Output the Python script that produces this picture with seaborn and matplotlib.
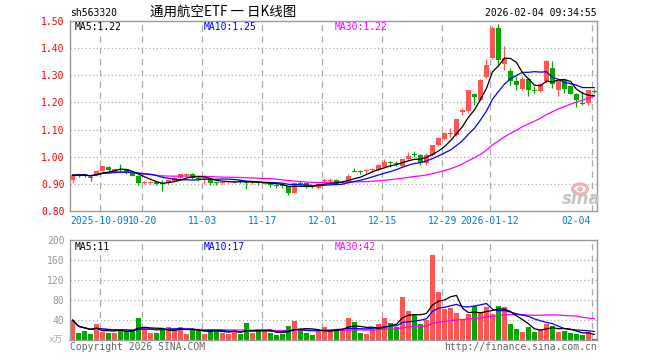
import numpy as np
import pandas as pd
import matplotlib
matplotlib.use("Agg")
import matplotlib.pyplot as plt
from matplotlib.patches import Ellipse
import matplotlib.transforms as mtransforms
import seaborn as sns

# ---------------- data ----------------
opens = [0.916, 0.934, 0.934, 0.925, 0.932, 0.948, 0.963, 0.943, 0.955, 0.953,
         0.945, 0.930, 0.902, 0.903, 0.908, 0.903, 0.903, 0.912, 0.921, 0.933,
         0.938, 0.921, 0.918, 0.915, 0.905, 0.903, 0.906, 0.908, 0.912, 0.910,
         0.903, 0.905, 0.901, 0.902, 0.897, 0.894, 0.891, 0.867, 0.901, 0.904,
         0.891, 0.884, 0.911, 0.912, 0.916, 0.903, 0.907, 0.948, 0.945, 0.948,
         0.952, 0.950, 0.963, 0.978, 0.978, 0.966, 0.990, 1.010, 1.008, 0.976,
         1.006, 1.043, 1.064, 1.083, 1.080, 1.166, 1.170, 1.232, 1.208, 1.294,
         1.365, 1.475, 1.343, 1.315, 1.278, 1.249, 1.286, 1.245, 1.241, 1.278,
         1.327, 1.247, 1.281, 1.259, 1.232, 1.198, 1.197, 1.242]
highs = [0.933, 0.938, 0.938, 0.928, 0.950, 0.966, 0.965, 0.960, 0.975, 0.956,
         0.947, 0.932, 0.910, 0.912, 0.910, 0.915, 0.918, 0.924, 0.937, 0.940,
         0.940, 0.924, 0.922, 0.917, 0.907, 0.911, 0.911, 0.914, 0.915, 0.912,
         0.907, 0.907, 0.906, 0.904, 0.899, 0.897, 0.893, 0.906, 0.910, 0.906,
         0.893, 0.903, 0.920, 0.920, 0.918, 0.908, 0.935, 0.960, 0.950, 0.955,
         0.960, 0.972, 0.990, 0.985, 0.985, 0.992, 1.018, 1.020, 1.010, 1.012,
         1.045, 1.074, 1.092, 1.104, 1.140, 1.180, 1.246, 1.235, 1.286, 1.361,
         1.480, 1.488, 1.407, 1.327, 1.296, 1.296, 1.290, 1.262, 1.270, 1.358,
         1.352, 1.286, 1.284, 1.262, 1.235, 1.241, 1.246, 1.250]
lows = [0.904, 0.925, 0.924, 0.909, 0.930, 0.946, 0.948, 0.940, 0.945, 0.935,
        0.928, 0.895, 0.898, 0.900, 0.895, 0.874, 0.900, 0.910, 0.918, 0.925,
        0.918, 0.912, 0.900, 0.895, 0.897, 0.900, 0.903, 0.905, 0.905, 0.882,
        0.899, 0.897, 0.898, 0.888, 0.886, 0.884, 0.858, 0.865, 0.895, 0.886,
        0.885, 0.882, 0.905, 0.905, 0.899, 0.898, 0.905, 0.946, 0.936, 0.937,
        0.945, 0.948, 0.960, 0.963, 0.965, 0.962, 0.988, 0.998, 0.970, 0.970,
        1.004, 1.040, 1.062, 1.073, 1.075, 1.155, 1.160, 1.191, 1.205, 1.290,
        1.360, 1.333, 1.321, 1.266, 1.247, 1.244, 1.225, 1.235, 1.238, 1.270,
        1.253, 1.225, 1.235, 1.232, 1.185, 1.192, 1.191, 1.235]
closes = [0.932, 0.933, 0.932, 0.922, 0.948, 0.964, 0.951, 0.956, 0.953, 0.940,
          0.930, 0.902, 0.905, 0.907, 0.898, 0.898, 0.916, 0.922, 0.935, 0.936,
          0.920, 0.918, 0.920, 0.902, 0.903, 0.908, 0.909, 0.910, 0.910, 0.902,
          0.905, 0.903, 0.904, 0.897, 0.894, 0.891, 0.867, 0.904, 0.900, 0.890,
          0.889, 0.900, 0.915, 0.915, 0.901, 0.905, 0.928, 0.946, 0.943, 0.950,
          0.955, 0.969, 0.981, 0.976, 0.975, 0.990, 1.003, 1.008, 0.978, 1.008,
          1.043, 1.068, 1.089, 1.087, 1.138, 1.172, 1.244, 1.220, 1.284, 1.339,
          1.475, 1.356, 1.362, 1.278, 1.266, 1.286, 1.244, 1.243, 1.268, 1.352,
          1.269, 1.284, 1.249, 1.232, 1.210, 1.196, 1.244, 1.240]
volumes = [40, 15, 18, 12, 32, 16, 15, 15, 21, 18,
           22, 44, 22, 15, 15, 20, 26, 20, 26, 12,
           22, 18, 12, 22, 18, 15, 12, 20, 12, 34,
           15, 18, 18, 15, 10, 13, 28, 38, 20, 15,
           10, 20, 26, 18, 22, 20, 44, 36, 14, 12,
           22, 32, 44, 34, 26, 86, 58, 50, 32, 40,
           170, 96, 62, 64, 54, 42, 52, 68, 56, 66,
           53, 68, 66, 32, 22, 16, 26, 16, 20, 32,
           29, 16, 18, 14, 13, 10, 16, 2]

date_labels = ["2025-10-09", "10-20", "11-03", "11-17", "12-01",
               "12-15", "12-29", "2026-01-12", "02-04"]
date_index = [5, 12, 22, 32, 42, 52, 62, 70, 87]
price_ticks = [0.80, 0.90, 1.00, 1.10, 1.20, 1.30, 1.40, 1.50]
vol_ticks = [40, 80, 120, 160, 200]

# ---------------- styling ----------------
sns.set_theme(style="white")
plt.rcParams['font.family'] = ['DejaVu Sans Mono', 'Noto Sans CJK SC']

RED = "#ff5555"
GREEN = "#00a800"
GRID = "#aaaaaa"
BORDER = "#999999"

n = len(closes)
df = pd.DataFrame({"i": np.arange(n), "open": opens, "high": highs,
                   "low": lows, "close": closes, "vol": volumes})
df["up"] = df["close"] >= df["open"]
df["color"] = np.where(df["up"], RED, GREEN)
for w in (5, 10, 30):
    df[f"ma{w}"] = df["close"].rolling(w, min_periods=1).mean()
    df[f"vma{w}"] = df["vol"].rolling(w, min_periods=1).mean()

W, H = 660, 360
fig = plt.figure(figsize=(6.6, 3.6), dpi=100)
fig.patch.set_facecolor("white")


def fx(x):
    return x / W


def fy(y):
    return 1 - y / H


ax = fig.add_axes([fx(70), fy(211), (597 - 70) / W, (211 - 21) / H])
axv = fig.add_axes([fx(70), fy(340), (597 - 70) / W, (340 - 240) / H])

xl = (-0.417, 87.42)
for a in (ax, axv):
    a.set_xlim(*xl)
    a.set_facecolor("white")
    for s in a.spines.values():
        s.set_color(BORDER)
        s.set_linewidth(1.0)
    a.set_xticks([])
    a.tick_params(axis="y", length=0, pad=4)

ax.set_ylim(0.80, 1.50)
axv.set_ylim(0, 200)

# grid lines
for t in date_index:
    ax.axvline(t - 0.4, color=GRID, ls=(0, (5, 4)), lw=0.9, zorder=0)
    axv.axvline(t - 0.4, color=GRID, ls=(0, (5, 4)), lw=0.9, zorder=0)
for p in price_ticks[1:-1]:
    ax.axhline(p, color=GRID, ls=(0, (1, 2)), lw=0.9, zorder=0)
for v in vol_ticks[:-1]:
    axv.axhline(v, color=GRID, ls=(0, (1, 2)), lw=0.9, zorder=0)

# candles
ax.vlines(df["i"], df["low"], df["high"], colors=df["color"], linewidth=0.9, zorder=2)
body_lo = np.minimum(df["open"], df["close"])
body_h = np.abs(df["close"] - df["open"])
minh = 0.0035
bottom = np.where(body_h < minh, body_lo - (minh - body_h) / 2, body_lo)
height = np.maximum(body_h, minh)
ax.bar(df["i"], height, bottom=bottom, width=0.72, color=df["color"],
       linewidth=0, zorder=3)

# price MAs
for col, c in (("ma30", "#ff00ff"), ("ma10", "#0000ff"), ("ma5", "#000000")):
    sns.lineplot(data=df, x="i", y=col, ax=ax, color=c, linewidth=0.9,
                 legend=False, zorder=4)

# volume
axv.bar(df["i"], df["vol"], width=0.82, color=df["color"], linewidth=0, zorder=2)
for col, c in (("vma30", "#ff00ff"), ("vma10", "#0000ff"), ("vma5", "#000000")):
    sns.lineplot(data=df, x="i", y=col, ax=axv, color=c, linewidth=0.9,
                 legend=False, zorder=4)

for a in (ax, axv):
    a.set_xlabel("")
    a.set_ylabel("")
    a.set_xlim(*xl)

ax.set_yticks(price_ticks)
ax.set_yticklabels([f"{p:.2f}" for p in price_ticks], color="#ff0000", fontsize=7)
axv.set_yticks(vol_ticks)
axv.set_yticklabels([str(v) for v in vol_ticks], color="#999999", fontsize=7)

# date labels
trans = mtransforms.blended_transform_factory(ax.transData, ax.transAxes)
for k, (lab, t) in enumerate(zip(date_labels, date_index)):
    if k == 0:
        ax.text(xl[0], -0.053, lab, transform=trans, ha="left", va="center",
                color="#0a78d0", fontsize=7)
    elif k == len(date_labels) - 1:
        ax.text(xl[1] - 1.0, -0.053, lab, transform=trans, ha="right", va="center",
                color="#0a78d0", fontsize=7)
    else:
        ax.text(t - 0.4, -0.053, lab, transform=trans, ha="center", va="center",
                color="#0a78d0", fontsize=7)

# header texts
fig.text(fx(70), fy(13), "sh563320", ha="left", va="center", fontsize=7, color="black")
fig.text(fx(223), fy(12), "通用航空ETF 一 日K线图", ha="center", va="center",
         fontsize=9.7, color="black", family=["Noto Sans CJK SC", "DejaVu Sans"])
fig.text(fx(597), fy(13), "2026-02-04 09:34:55", ha="right", va="center",
         fontsize=7, color="black")

# MA legends
fig.text(fx(75), fy(26.5), "MA5:1.22", ha="left", va="center", fontsize=7, color="black")
fig.text(fx(204), fy(26.5), "MA10:1.25", ha="left", va="center", fontsize=7, color="#0000ff")
fig.text(fx(335), fy(26.5), "MA30:1.22", ha="left", va="center", fontsize=7, color="#ff00ff")
fig.text(fx(75), fy(246.5), "MA5:11", ha="left", va="center", fontsize=7, color="black")
fig.text(fx(204), fy(246.5), "MA10:17", ha="left", va="center", fontsize=7, color="#0000ff")
fig.text(fx(335), fy(246.5), "MA30:42", ha="left", va="center", fontsize=7, color="#ff00ff")

# footer
fig.text(fx(56), fy(340), "x万", ha="center", va="center", fontsize=6.5, color="#aaaaaa",
         family=["DejaVu Sans Mono", "Noto Sans CJK SC"])
fig.text(fx(70), fy(346.5), "Copyright 2026 SINA.COM", ha="left", va="center",
         fontsize=7, color="#666666")
fig.text(fx(597), fy(346.5), "http://finance.sina.com.cn", ha="right", va="center",
         fontsize=7, color="#666666")

# sina watermark
fig.patches.append(Ellipse((fx(580), fy(189)), 15 / W, 10 / H, transform=fig.transFigure,
                           facecolor="none", edgecolor="#f2b0b0", lw=2.2, zorder=1))
fig.patches.append(Ellipse((fx(580), fy(189)), 5 / W, 5 / H, transform=fig.transFigure,
                           facecolor="#f2b0b0", edgecolor="none", zorder=1))
fig.text(fx(581), fy(199), "sina", ha="center", va="center", fontsize=12,
         fontweight="bold", style="italic", color="#c4c4c4", family="DejaVu Sans",
         zorder=1)

fig.savefig("out.png", dpi=100, facecolor="white")
